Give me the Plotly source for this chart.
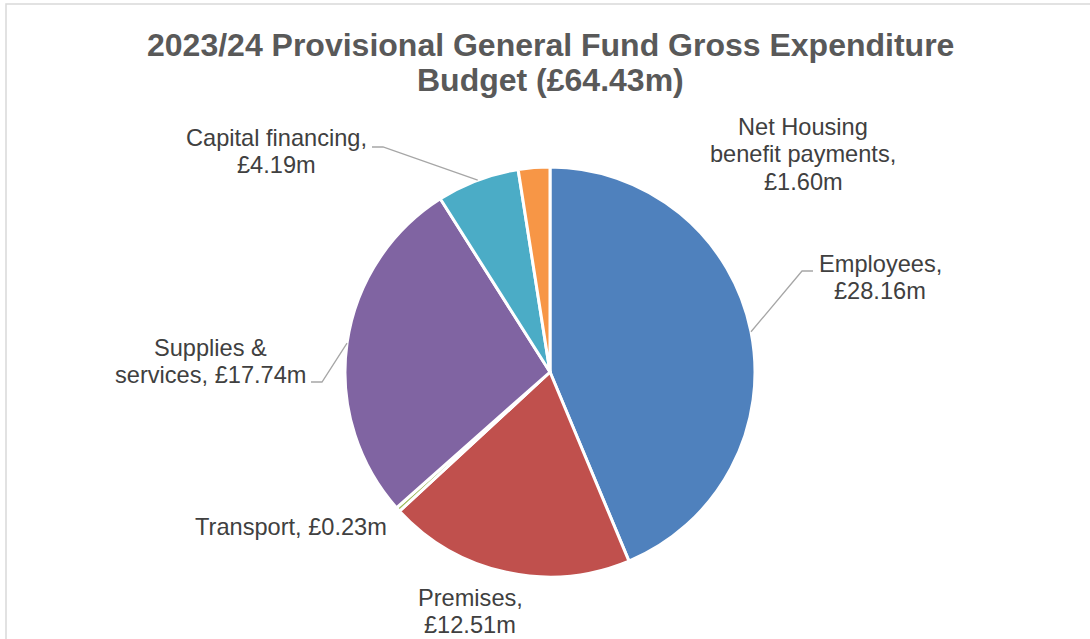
import math
import plotly.graph_objects as go

# Budget breakdown (£m)
categories = ["Employees", "Premises", "Transport", "Supplies & services",
              "Capital financing", "Net Housing benefit payments"]
values = [28.16, 12.51, 0.23, 17.74, 4.19, 1.60]
colors = ["#4F81BD", "#C0504D", "#9BBB59", "#8064A2", "#4BACC6", "#F79646"]

# Label lines as drawn (name part, value part appended to last line)
label_lines = {
    "Employees": ["Employees,", "{v}"],
    "Premises": ["Premises,", "{v}"],
    "Transport": ["Transport, {v}"],
    "Supplies & services": ["Supplies &", "services, {v}"],
    "Capital financing": ["Capital financing,", "{v}"],
    "Net Housing benefit payments": ["Net Housing", "benefit payments,", "{v}"],
}

W, H = 1090, 639
CX, CY, R = 550, 372, 205  # pie centre and radius in pixels


def px(x):
    return x / W


def py(y):
    return 1 - y / H


# label text centre (x, y of first line) and optional leader elbow (x, y, end x)
label_layout = {
    "Employees": dict(x=880, y=264, elbow=(802, 271, 813)),
    "Premises": dict(x=470, y=598, elbow=None),
    "Transport": dict(x=291, y=527, elbow=None),
    "Supplies & services": dict(x=210, y=348, elbow=(322, 382, 311)),
    "Capital financing": dict(x=276, y=138, elbow=(383, 147, 372)),
    "Net Housing benefit payments": dict(x=803, y=127, elbow=None),
}
LINE_H = 27.3

fig = go.Figure(go.Pie(
    labels=categories,
    values=values,
    sort=False,
    direction="clockwise",
    rotation=0,
    marker=dict(colors=colors, line=dict(color="white", width=3)),
    textinfo="none",
    hoverinfo="label+value",
    showlegend=False,
    domain=dict(x=[px(CX - R), px(CX + R)], y=[py(CY + R), py(CY - R)]),
))

annotations = []
shapes = []
total = sum(values)
cum = 0.0
label_font = dict(family="Liberation Sans, Arial, sans-serif", size=23.6, color="#404040")
for name, v in zip(categories, values):
    mid = (cum + v / 2) / total * 2 * math.pi
    cum += v
    lay = label_layout[name]
    vtxt = f"£{v:.2f}m"
    for i, line in enumerate(label_lines[name]):
        annotations.append(dict(
            text=line.format(v=vtxt), x=px(lay["x"]), y=py(lay["y"] + i * LINE_H),
            xref="paper", yref="paper", xanchor="center", yanchor="middle",
            showarrow=False, font=label_font,
        ))
    if lay["elbow"]:
        ex = CX + R * math.sin(mid)
        ey = CY - R * math.cos(mid)
        bx, by, endx = lay["elbow"]
        shapes.append(dict(
            type="path", xref="paper", yref="paper",
            path=f"M {px(ex)},{py(ey)} L {px(bx)},{py(by)} L {px(endx)},{py(by)}",
            line=dict(color="#A6A6A6", width=1.3),
        ))

# chart area border
shapes.append(dict(type="rect", xref="paper", yref="paper",
                   x0=px(6), y0=py(700), x1=px(1200), y1=py(4),
                   line=dict(color="#D9D9D9", width=1.5), layer="below"))

title_font = dict(family="Liberation Sans, Arial, sans-serif", size=32, color="#595959")
for i, t in enumerate(["<b>2023/24 Provisional General Fund Gross Expenditure</b>",
                       "<b>Budget (£64.43m)</b>"]):
    annotations.append(dict(text=t, x=px(550), y=py(45 + i * 35), xref="paper", yref="paper",
                            xanchor="center", yanchor="middle", showarrow=False, font=title_font))

fig.update_layout(
    width=W, height=H,
    margin=dict(l=0, r=0, t=0, b=0),
    paper_bgcolor="white", plot_bgcolor="white",
    annotations=annotations, shapes=shapes,
)

fig.write_html("out.html", config={"displayModeBar": False})
